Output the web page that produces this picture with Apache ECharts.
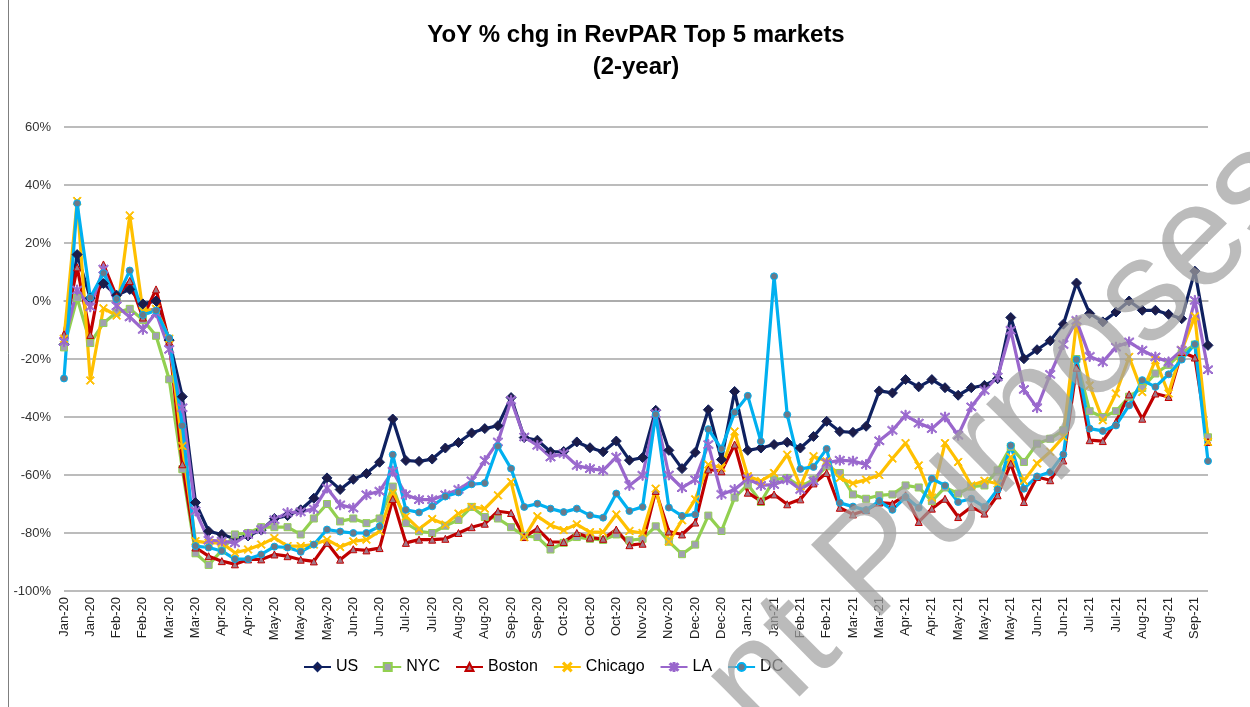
<!DOCTYPE html>
<html>
<head>
<meta charset="utf-8">
<script src="https://cdn.jsdelivr.net/npm/echarts@6/dist/echarts.min.js"></script>
<style>
  html, body { margin: 0; padding: 0; background: #fff; }
  #chart { width: 1250px; height: 707px; }
</style>
</head>
<body>
<div id="chart"></div>
<script>
// tick labels, one every second week
var tickLabels = ['Jan-20', 'Jan-20', 'Feb-20', 'Feb-20', 'Mar-20', 'Mar-20', 'Apr-20', 'Apr-20', 'May-20', 'May-20',
  'May-20', 'Jun-20', 'Jun-20', 'Jul-20', 'Jul-20', 'Aug-20', 'Aug-20', 'Sep-20', 'Sep-20', 'Oct-20',
  'Oct-20', 'Oct-20', 'Nov-20', 'Nov-20', 'Dec-20', 'Dec-20', 'Jan-21', 'Jan-21', 'Feb-21', 'Feb-21',
  'Mar-21', 'Mar-21', 'Apr-21', 'Apr-21', 'May-21', 'May-21', 'May-21', 'Jun-21', 'Jun-21', 'Jul-21',
  'Jul-21', 'Aug-21', 'Aug-21', 'Sep-21']

var us = [-15, 16, 1, 6, 2, 4, -1, 0, -13.5, -33,
  -69.5, -79.4, -80.5, -82, -81, -79, -75, -74, -72, -68,
  -61, -65, -61.5, -59.5, -55.6, -40.7, -55, -55.3, -54.5, -50.7,
  -48.8, -45.5, -44, -43, -33.3, -47.1, -48, -52, -51.9, -48.6,
  -50.6, -52, -48.3, -54.9, -54, -37.7, -51.5, -57.8, -52.2, -37.5,
  -54.7, -31.2, -51.5, -50.7, -49.5, -48.7, -50.7, -46.7, -41.5, -45,
  -45.3, -43.2, -31, -31.7, -27.1, -29.6, -27.1, -29.9, -32.5, -29.9,
  -29.1, -26.8, -5.7, -19.9, -16.8, -13.7, -8, 6.2, -4.3, -7.2,
  -3.8, 0, -3.2, -3.2, -4.6, -6.1, 10.3, -15.3]

var nyc = [-16, 1, -14.5, -7.6, -4, -2.7, -6.5, -12, -27, -58,
  -87, -91, -86, -80.5, -80, -78, -78, -78, -80.5, -75,
  -70, -76, -75, -76.6, -75, -64, -76.6, -79.4, -80, -77.5,
  -75.5, -71, -74.5, -75, -78, -81, -81.4, -85.7, -83.4, -81.4,
  -82, -82.4, -80.5, -82.5, -82, -77.7, -83, -87.3, -84, -74,
  -79.3, -67.8, -63.3, -69.3, -61.6, -61, -64, -61.6, -57, -59.3,
  -66.7, -68.2, -67, -66.7, -63.6, -64.3, -69, -64.3, -66.4, -64,
  -63.6, -58.4, -50.3, -55.5, -49.2, -47.5, -44.6, -20, -38, -40,
  -38, -33, -30, -25, -22, -18, -15, -47]

var boston = [-11.5, 11.6, -11.7, 12.6, 1.5, 6.9, -5.7, 4, -14, -56.3,
  -85, -88, -89.7, -90.8, -89.1, -89.1, -87.4, -88, -89.2, -89.8,
  -83.4, -89.2, -85.6, -86, -85.2, -68.3, -83.4, -82.3, -82.3, -82,
  -80, -78, -76.8, -72.5, -73.1, -81.4, -78.5, -83.1, -83.1, -80,
  -81.6, -82, -78.8, -84.2, -83.7, -65.5, -79.5, -80.5, -76.4, -58.1,
  -58.7, -49.5, -66.1, -69, -66.7, -70.1, -68.4, -62.9, -59.3, -71.3,
  -73.6, -72.1, -69.5, -69.9, -67, -76.2, -71.6, -68.2, -74.5, -71,
  -73.3, -67, -56.1, -69.3, -60.7, -61.8, -55, -23, -48, -48.3,
  -41.7, -32.2, -40.6, -31.9, -33.1, -17.6, -19.5, -48.6]

var chicago = [-13, 34.5, -27.4, -2.5, -5, 29.5, -3.5, -2.7, -13, -50,
  -82.8, -83.4, -83.4, -86.8, -85.7, -84, -81.7, -84.5, -84.5, -84,
  -82.3, -84.8, -82.9, -82.3, -79.4, -66.2, -74.3, -78.6, -75.2, -77.1,
  -73.3, -71, -71.6, -67, -62.4, -81.4, -74.2, -77.3, -79, -77,
  -79.7, -79.7, -73.6, -79.3, -80, -64.7, -83, -75.6, -68.4, -56.4,
  -57.5, -45, -60.4, -62.1, -59.3, -53, -63.8, -53.5, -55.3, -61,
  -62.9, -61.6, -60, -54.3, -49, -56.7, -67.8, -49, -55.5, -63.6,
  -62, -63, -53.8, -62, -56, -52, -46.9, -7.2, -29.1, -41.1,
  -31.9, -19.3, -31.4, -20.4, -31.9, -17, -5.3, -48.6]

var la = [-14, 3.8, -2, 11, -1.7, -5.5, -9.8, -4, -16.7, -36.8,
  -72.4, -82.5, -82.8, -83.4, -80.5, -78.8, -75.4, -73, -72.7, -71.7,
  -64.5, -70.3, -71.4, -66.8, -65.6, -58.7, -66.8, -68.5, -68.5, -66.8,
  -65, -62, -55, -48.6, -34.2, -46.9, -49.8, -53.8, -52.6, -56.7,
  -57.8, -58.4, -53.8, -63.6, -60.1, -38.8, -60, -64.4, -61.6, -49.5,
  -66.7, -65, -61.3, -63.6, -63.3, -61.6, -65, -62.1, -55.8, -54.9,
  -55.2, -56.4, -48.2, -44.6, -39.4, -42.1, -44, -40, -46.3, -36.5,
  -30.8, -26.2, -10.1, -30.5, -36.8, -25.3, -15, -6.7, -19.1, -21,
  -15.9, -14.1, -17, -19.3, -21, -17, 0.2, -23.7]

var dc = [-26.7, 33.7, 1.2, 9.6, 0.7, 10.5, -4.8, -3.3, -12.8, -43,
  -84.5, -85, -86.2, -89, -89, -87.4, -84.7, -85, -86.5, -84,
  -78.8, -79.5, -80, -80, -77.7, -53, -72, -72.9, -70.8, -67.4,
  -66, -63.2, -62.8, -50.1, -57.8, -71, -69.9, -71.6, -72.8, -71.6,
  -73.9, -74.7, -66.4, -72.4, -71, -39.1, -71.2, -74.1, -73.6, -44.2,
  -51, -38.4, -32.7, -48.4, 8.5, -39.2, -57.9, -57.2, -51, -69.6,
  -70.9, -72.1, -69, -72, -67.6, -71.3, -61.3, -63.6, -69.3, -68.2,
  -71, -65, -49.8, -64.7, -60.5, -59, -52.9, -20.2, -44, -44.8,
  -42.9, -36, -27.3, -29.6, -25.3, -20.2, -14.9, -55.2]

// weekly categories, two weeks per tick label
var weeks = []
tickLabels.forEach(function (m) {
  weeks.push(m, m)
})

// marker shapes like the excel ones
var xMark = 'path://M0,1 L1,0 L5,4 L9,0 L10,1 L6,5 L10,9 L9,10 L5,6 L1,10 L0,9 L4,5 Z'
var starMark = 'path://M0,1 L1,0 L5,4 L9,0 L10,1 L6,5 L10,9 L9,10 L5,6 L1,10 L0,9 L4,5 Z M4.4,-1 L5.6,-1 L5.6,11 L4.4,11 Z'

function makeSeries (name, data, lineColor, fill, symbol, size) {
  return {
    name: name,
    type: 'line',
    data: data,
    symbol: symbol,
    symbolSize: size,
    showAllSymbol: true,
    lineStyle: { color: lineColor, width: 3.2 },
    itemStyle: { color: fill, borderColor: lineColor, borderWidth: 1 },
    emphasis: { disabled: true },
    animation: false
  }
}

var chart = echarts.init(document.getElementById('chart'))
chart.setOption({
  backgroundColor: '#fff',
  title: {
    text: 'YoY % chg in RevPAR Top 5 markets\n(2-year)',
    left: 631,
    textAlign: 'center',
    top: 14,
    textStyle: { fontFamily: 'Arial', fontSize: 24, fontWeight: 'bold', color: '#000', lineHeight: 32 }
  },
  legend: {
    left: 298,
    top: 654,
    itemWidth: 27,
    itemHeight: 10,
    itemGap: 15,
    textStyle: { fontFamily: 'Arial', fontSize: 16, color: '#000' },
    data: ['US', 'NYC', 'Boston', 'Chicago', 'LA', 'DC']
  },
  grid: { left: 64, right: 42, top: 127, bottom: 116 },
  xAxis: {
    type: 'category',
    data: weeks,
    boundaryGap: false,
    axisLine: { lineStyle: { color: '#a6a6a6', width: 1.5 } },
    axisTick: { show: false },
    axisLabel: {
      interval: 1,
      rotate: 90,
      margin: 6,
      fontFamily: 'Arial',
      fontSize: 13,
      color: '#222'
    }
  },
  yAxis: {
    type: 'value',
    min: -100,
    max: 60,
    interval: 20,
    axisLine: { show: false },
    axisTick: { show: false },
    splitLine: { lineStyle: { color: '#a6a6a6', width: 1.5 } },
    axisLabel: {
      formatter: '{value}%',
      margin: 13,
      fontFamily: 'Arial',
      fontSize: 13,
      color: '#333'
    }
  },
  series: [
    makeSeries('US', us, '#0f2160', '#1c1c48', 'diamond', 10),
    makeSeries('NYC', nyc, '#92d050', '#a0a0b0', 'rect', 7),
    makeSeries('Boston', boston, '#c00000', '#a07888', 'triangle', 7),
    makeSeries('Chicago', chicago, '#ffc000', '#ffc000', xMark, 8),
    makeSeries('LA', la, '#9966cc', '#a07cd8', starMark, 10),
    makeSeries('DC', dc, '#00b0f0', '#6b7888', 'circle', 7)
  ],
  graphic: [
    {
      type: 'line',
      shape: { x1: 8.5, y1: 0, x2: 8.5, y2: 707 },
      style: { stroke: '#7f7f7f', lineWidth: 1 }
    },
    {
      type: 'text',
      x: 730,
      y: 709,
      rotation: 0.78,
      z: 100,
      silent: true,
      style: {
        text: 'nt Purposes',
        fontFamily: 'Arial',
        fontSize: 145,
        fill: 'rgba(161,161,161,0.72)',
        align: 'left',
        verticalAlign: 'middle'
      }
    }
  ]
})
</script>
</body>
</html>
